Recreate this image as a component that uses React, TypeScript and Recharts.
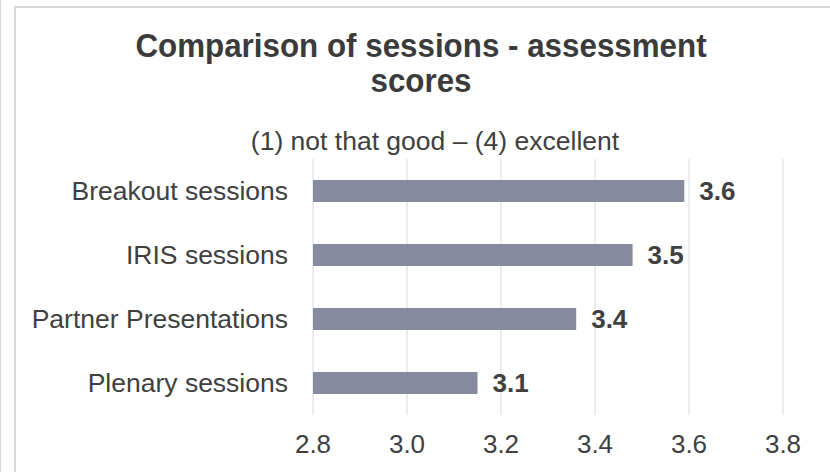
import React from "react";
import { BarChart, Bar, XAxis, YAxis, CartesianGrid, LabelList } from "recharts";

const categories = ["Breakout sessions", "IRIS sessions", "Partner Presentations", "Plenary sessions"];
const scores = [3.59, 3.48, 3.36, 3.15];
const xTicks = [2.8, 3.0, 3.2, 3.4, 3.6, 3.8];

const data = categories.map((name, i) => ({ name, score: scores[i] }));

const font = "'Liberation Sans', Arial, sans-serif";

const App = () => {
  return (
    <div
      style={{
        position: "absolute",
        left: 0,
        top: 0,
        width: 830,
        height: 472,
        overflow: "hidden",
        background: "#fff",
        fontFamily: font,
      }}
    >
      {/* outer frame lines */}
      <div style={{ position: "absolute", left: 0, top: 0, width: 1, height: 472, background: "#d9d9d9" }} />
      <div
        style={{
          position: "absolute",
          left: 14,
          top: 6,
          width: 840,
          height: 480,
          border: "2px solid #d9d9d9",
          boxSizing: "border-box",
        }}
      />

      <div style={{ position: "absolute", left: 0, top: 0 }}>
        <BarChart
          width={830}
          height={472}
          data={data}
          layout="vertical"
          margin={{ top: 159, right: 47, bottom: 0, left: 0 }}
        >
          <CartesianGrid horizontal={false} stroke="#e6e6e6" strokeWidth={1.5} />
          <XAxis
            type="number"
            domain={[2.8, 3.8]}
            ticks={xTicks}
            tickFormatter={(v: number) => v.toFixed(1)}
            axisLine={false}
            tickLine={false}
            tickSize={0}
            tickMargin={20}
            height={57}
            tick={{ fill: "#404040", fontSize: 26, fontFamily: font }}
          />
          <YAxis
            type="category"
            dataKey="name"
            width={313}
            axisLine={false}
            tickLine={false}
            tickSize={0}
            tickMargin={25}
            tick={{ fill: "#404040", fontSize: 26.5, fontFamily: font }}
          />
          <Bar dataKey="score" fill="#868ba0" barSize={22} isAnimationActive={false}>
            <LabelList
              dataKey="score"
              position="right"
              offset={15}
              formatter={(v: number) => v.toFixed(1)}
              style={{ fill: "#404040", fontSize: 26, fontWeight: 700, fontFamily: font }}
            />
          </Bar>
        </BarChart>
      </div>

      <svg width={830} height={472} style={{ position: "absolute", left: 0, top: 0, pointerEvents: "none" }}>
        <g transform="translate(421,0) scale(0.95,1)">
          <text x={0} y={57} textAnchor="middle" fill="#3b3b3b" fontSize={33} fontWeight={700} fontFamily={font}>
            Comparison of sessions - assessment
          </text>
          <text x={0} y={92} textAnchor="middle" fill="#3b3b3b" fontSize={33} fontWeight={700} fontFamily={font}>
            scores
          </text>
        </g>
        <text x={435} y={150} textAnchor="middle" fill="#404040" fontSize={26.5} fontFamily={font}>
          (1) not that good – (4) excellent
        </text>
      </svg>
    </div>
  );
};

export default App;
